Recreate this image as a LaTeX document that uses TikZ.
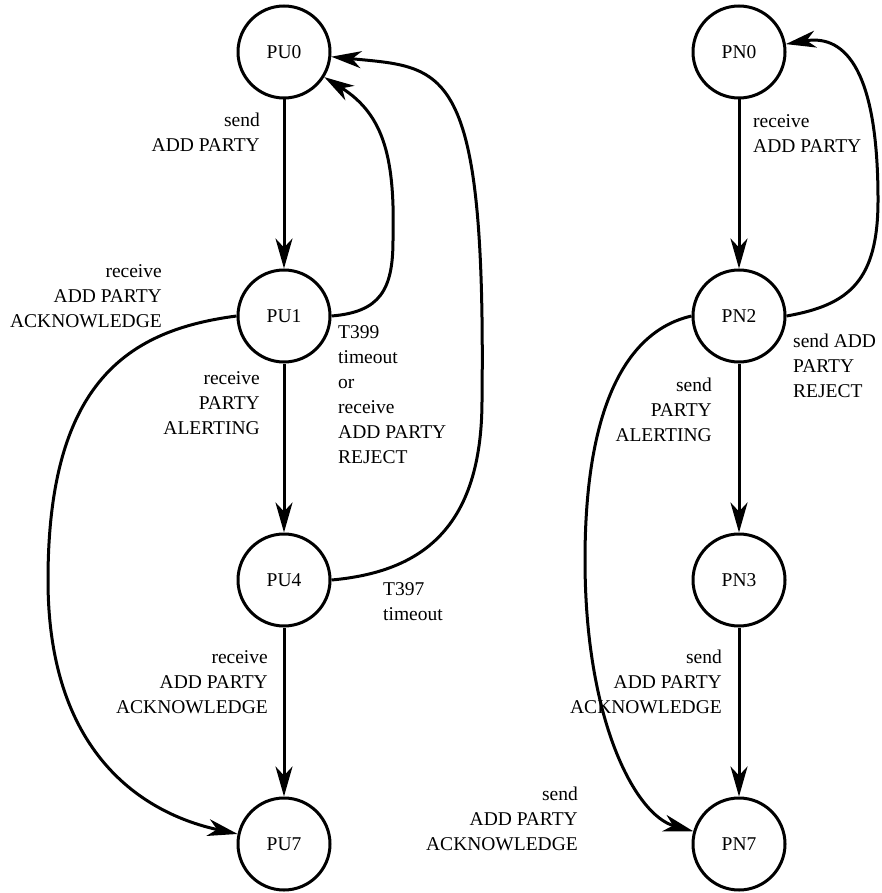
\documentclass[tikz,border=0pt]{standalone}
\usepackage{fontspec}
\setmainfont{Liberation Serif}
\newfontfamily\statefont{Liberation Serif}
\usetikzlibrary{arrows.meta}
\begin{document}
\begin{tikzpicture}[x=1pt,y=-1pt,
  state/.style={draw, circle, line width=3pt, minimum size=92pt, inner sep=0pt,
    font=\statefont\fontsize{19.5}{25}\selectfont},
  edge/.style={line width=3pt, -{Stealth[length=30pt,width=17pt,inset=9pt]}},
  lblr/.style={anchor=north east, align=right, inner sep=0pt, font=\statefont\fontsize{19.5}{25}\selectfont},
  lbll/.style={anchor=north west, align=left, inner sep=0pt, font=\statefont\fontsize{19.5}{25}\selectfont}]
\useasboundingbox (0,0) rectangle (882,893);

% user-side states
\node[state] (PU0) at (284,52) {PU0};
\node[state] (PU1) at (284,316) {PU1};
\node[state] (PU4) at (284,580) {PU4};
\node[state] (PU7) at (284,844) {PU7};

% network-side states
\node[state] (PN0) at (739,52) {PN0};
\node[state] (PN2) at (739,316) {PN2};
\node[state] (PN3) at (739,580) {PN3};
\node[state] (PN7) at (739,844) {PN7};

% user-side transitions
\draw[edge] (PU0) -- (PU1);
\draw[edge] (PU1) -- (PU4);
\draw[edge] (PU4) -- (PU7);
\draw[edge] (PU1.east) .. controls (380,312) and (393,290) .. (393,240)
  .. controls (395,160) and (385,115) .. (PU0);
\draw[edge] (PU4.east) .. controls (420,572) and (482,530) .. (482,400)
  .. controls (486,60) and (445,68) .. (PU0);
\draw[edge] (PU1.west) .. controls (130,330) and (48,380) .. (48,580)
  .. controls (48,760) and (150,815) .. (PU7);

% network-side transitions
\draw[edge] (PN0) -- (PN2);
\draw[edge] (PN2) -- (PN3);
\draw[edge] (PN3) -- (PN7);
\draw[edge] (PN2.east) .. controls (850,305) and (878,280) .. (878,200)
  .. controls (878,60) and (840,35) .. (PN0);
\draw[edge] (PN2.west) .. controls (630,330) and (585,400) .. (585,560)
  .. controls (585,720) and (635,815) .. (PN7);

% labels
\node[lblr] (l1) at (260,109) {\strut send\\ADD PARTY};
\node[lblr] (l2) at (162,260) {\strut receive\\ADD PARTY\\ACKNOWLEDGE};
\node[lbll] (l3) at (338,321) {\strut T399\\timeout\\or\\receive\\ADD PARTY\\REJECT};
\node[lblr] (l4) at (260,367) {\strut receive\\PARTY\\ALERTING};
\node[lbll] (l5) at (383,578) {\strut T397\\timeout};
\node[lblr] (l6) at (268,646) {\strut receive\\ADD PARTY\\ACKNOWLEDGE};
\node[lbll] (l7) at (753,110) {\strut receive\\ADD PARTY};
\node[lbll] (l8) at (793,330) {\strut send ADD\\PARTY\\REJECT};
\node[lblr] (l9) at (712,374) {\strut send\\PARTY\\ALERTING};
\node[lblr] (l10) at (722,646) {\strut send\\ADD PARTY\\ACKNOWLEDGE};
\node[lblr] (l11) at (578,783) {\strut send\\ADD PARTY\\ACKNOWLEDGE};
\end{tikzpicture}
\end{document}
